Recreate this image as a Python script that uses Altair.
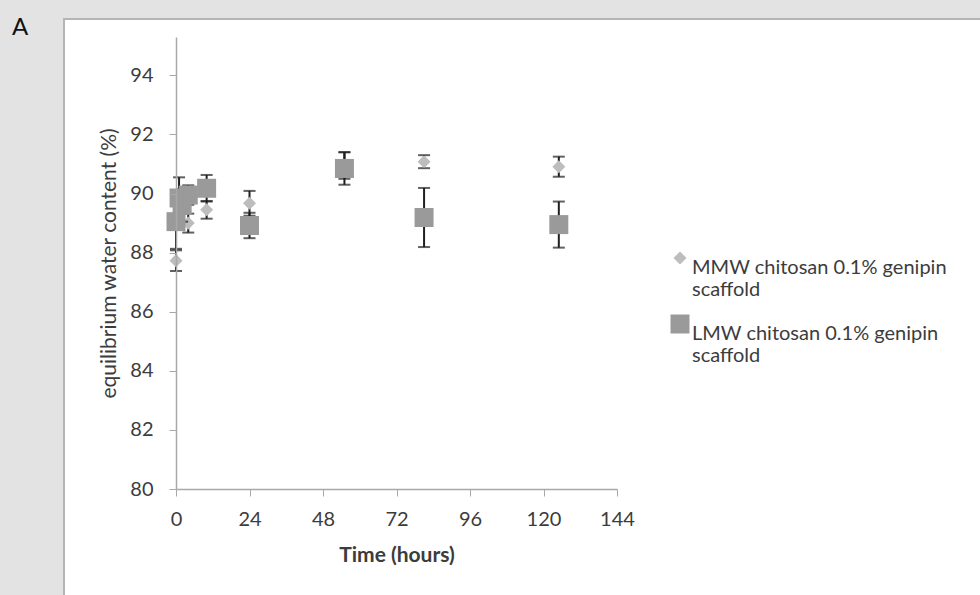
import altair as alt
import pandas as pd

# ---- data ----
series_names = ["MMW chitosan 0.1% genipin scaffold", "LMW chitosan 0.1% genipin scaffold"]

mmw_time = [0, 1, 2, 4, 10, 24, 55, 81, 125]
mmw_mean = [87.73, 89.4, 89.7, 89.0, 89.45, 89.67, 90.95, 91.08, 90.91]
mmw_err = [0.35, 0.4, 0.35, 0.32, 0.3, 0.42, 0.45, 0.22, 0.34]

lmw_time = [0, 1, 2, 4, 10, 24, 55, 81, 125]
lmw_mean = [89.05, 89.85, 89.6, 89.95, 90.18, 88.92, 90.85, 89.19, 88.95]
lmw_err = [0.92, 0.7, 0.55, 0.33, 0.45, 0.43, 0.55, 1.0, 0.78]

x_ticks = [0, 24, 48, 72, 96, 120, 144]
y_ticks = [80, 82, 84, 86, 88, 90, 92, 94]

rows = []
for name, ts, ms, es in [
    (series_names[0], mmw_time, mmw_mean, mmw_err),
    (series_names[1], lmw_time, lmw_mean, lmw_err),
]:
    for t, m, e in zip(ts, ms, es):
        rows.append({"series": name, "time": t, "mean": m, "lo": m - e, "hi": m + e})
df = pd.DataFrame(rows)

L, T = 176, 37
W, H = 441, 452
FONT = "Lato"
AXIS_COLOR = "#a8a8a8"
TEXT_COLOR = "#3c3c3c"

xscale = alt.Scale(domain=[0, 144], nice=False, zero=False)
yscale = alt.Scale(domain=[80, 95.3], nice=False, zero=False)

x_axis = alt.Axis(
    values=x_ticks, title="Time (hours)", grid=False, zindex=1, labelFlush=False,
    domainColor=AXIS_COLOR, domainWidth=1.5, tickColor=AXIS_COLOR, tickSize=7,
    labelFont=FONT, labelFontSize=20, labelColor=TEXT_COLOR, labelPadding=13,
    titleFont=FONT, titleFontSize=21, titleFontWeight="bold", titleColor=TEXT_COLOR,
    titlePadding=15,
)
y_axis = alt.Axis(
    values=y_ticks, title="equilibrium water content (%)", grid=False, zindex=1,
    labelFlush=False,
    domainColor=AXIS_COLOR, domainWidth=1.5, tickColor=AXIS_COLOR, tickSize=7,
    labelFont=FONT, labelFontSize=20, labelColor=TEXT_COLOR, labelPadding=16,
    titleFont=FONT, titleFontSize=21, titleFontWeight="normal", titleColor=TEXT_COLOR,
    titlePadding=10,
)

shape_scale = alt.Scale(domain=series_names, range=["diamond", "square"])
color_scale = alt.Scale(domain=series_names, range=["#bdbdbd", "#9a9a9a"])
size_scale = alt.Scale(domain=series_names, range=[170, 361])

legend = alt.Legend(
    title=None,
    orient="none",
    legendX=494,
    legendY=211,
    labelFont=FONT,
    labelFontSize=20,
    labelColor=TEXT_COLOR,
    labelLimit=400,
    labelExpr="[substring(datum.label, 0, 25), substring(datum.label, 26)]",
    labelBaseline="top",
    labelOffset=2,
    rowPadding=14,
    symbolStrokeWidth=0,
    zindex=1,
)

frame = alt.Chart(pd.DataFrame({"k": [0]})).mark_rect(
    fill="white", stroke="#b5b5b5", strokeWidth=2
).encode(
    x=alt.value(64 - L), x2=alt.value(1000 - L),
    y=alt.value(19 - T), y2=alt.value(640 - T),
)

panel_label = alt.Chart(pd.DataFrame({"k": [0]})).mark_text(
    text="A", font=FONT, fontSize=24, color="#111111", align="center", baseline="middle"
).encode(x=alt.value(20 - L), y=alt.value(28 - T))


def series_layers(name):
    sub = alt.Chart(df).transform_filter(alt.datum.series == name)
    rule = sub.mark_rule(color="#1e1e1e", strokeWidth=2).encode(
        x=alt.X("time:Q", scale=xscale, axis=x_axis),
        y=alt.Y("lo:Q", scale=yscale, axis=y_axis),
        y2="hi:Q",
    )
    cap_lo = sub.mark_tick(color="#1e1e1e", orient="horizontal", size=12, thickness=2).encode(
        x=alt.X("time:Q", scale=xscale, axis=x_axis),
        y=alt.Y("lo:Q", scale=yscale, axis=y_axis),
    )
    cap_hi = sub.mark_tick(color="#1e1e1e", orient="horizontal", size=12, thickness=2).encode(
        x=alt.X("time:Q", scale=xscale, axis=x_axis),
        y=alt.Y("hi:Q", scale=yscale, axis=y_axis),
    )
    pts = sub.mark_point(filled=True, opacity=1, strokeWidth=0).encode(
        x=alt.X("time:Q", scale=xscale, axis=x_axis),
        y=alt.Y("mean:Q", scale=yscale, axis=y_axis),
        shape=alt.Shape("series:N", scale=shape_scale, legend=legend),
        color=alt.Color("series:N", scale=color_scale, legend=legend),
        size=alt.Size("series:N", scale=size_scale, legend=legend),
    )
    return [rule, cap_lo, cap_hi, pts]


layers = [frame, panel_label] + series_layers(series_names[0]) + series_layers(series_names[1])

chart = alt.layer(*layers).properties(
    width=W,
    height=H,
    autosize=alt.AutoSizeParams(type="none"),
    padding={"left": L, "top": T, "right": 980 - L - W, "bottom": 595 - T - H},
    background="#e3e3e3",
).configure_view(strokeWidth=0)

chart.save("out.html", embed_options={"renderer": "svg", "actions": False})
